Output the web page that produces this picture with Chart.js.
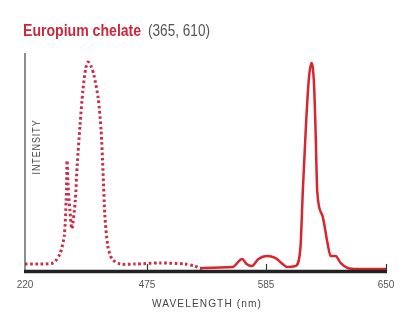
<!DOCTYPE html>
<html>
<head>
<meta charset="utf-8">
<script src="https://cdn.jsdelivr.net/npm/chart.js@4/dist/chart.umd.min.js"></script>
<style>
  html, body { margin: 0; padding: 0; background: #fff; }
  #wrap { width: 412px; height: 320px; position: relative; }
</style>
</head>
<body>
<div id="wrap"><canvas id="c" width="412" height="320"></canvas></div>
<script>
// ---- data ----
const titleMain = "Europium chelate";
const titleSub = "(365, 610)";
const xTitle = "WAVELENGTH (nm)";
const yTitle = "INTENSITY";
const xTickValues = [220, 475, 585, 650];

// excitation spectrum (dotted)
const exWavelength = [220, 251, 279, 293, 302, 306, 308, 310, 314, 318, 325, 329, 335, 341, 347, 352, 358, 364, 373, 379, 383, 387, 393, 402, 419, 450, 487, 510, 519, 526];
const exIntensity  = [3.2, 3.2, 3.7, 7.8, 16.1, 32.3, 50.7, 39.2, 27.6, 19.4, 32.0, 48.4, 66.8, 82.9, 93.1, 95.9, 94.0, 89.9, 79.3, 64.5, 46.1, 25.3, 11.5, 5.5, 3.2, 3.2, 3.7, 3.2, 2.3, 0.9];

// emission spectrum (solid)
const emWavelength = [524, 554, 563, 567, 572, 578, 585.5, 590, 594, 596.5, 601, 603.6, 605, 606.6, 608.2, 609.6, 611, 611.8, 612.8, 615.6, 618.3, 620, 622.7, 625.4, 629.2, 634.6, 650];
const emIntensity  = [1.4, 1.8, 5.5, 3.2, 2.3, 5.5, 6.9, 6.0, 3.2, 1.8, 2.3, 10.1, 37.8, 66.0, 88.0, 95.4, 86.0, 66.0, 36.0, 25.3, 12.9, 6.9, 6.9, 3.7, 1.4, 0.9, 0.9];

// ---- piecewise-linear wavelength scale (the original axis is not uniform) ----
const BREAKS = [220, 475, 585, 650];
const FRACS  = [0, 122 / 361, 241 / 361, 1];
class PiecewiseScale extends Chart.LinearScale {
  getPixelForValue(v) {
    if (v === null || v === undefined || isNaN(v)) return NaN;
    let i = 0;
    while (i < BREAKS.length - 2 && v > BREAKS[i + 1]) i++;
    const f = FRACS[i] + (v - BREAKS[i]) / (BREAKS[i + 1] - BREAKS[i]) * (FRACS[i + 1] - FRACS[i]);
    return this.getPixelForDecimal(f);
  }
  getValueForPixel(p) {
    const f = this.getDecimalForPixel(p);
    let i = 0;
    while (i < FRACS.length - 2 && f > FRACS[i + 1]) i++;
    return BREAKS[i] + (f - FRACS[i]) / (FRACS[i + 1] - FRACS[i]) * (BREAKS[i + 1] - BREAKS[i]);
  }
}
PiecewiseScale.id = 'piecewise';
PiecewiseScale.defaults = Chart.LinearScale.defaults;
Chart.register(PiecewiseScale);

const FONT = '"Liberation Sans", Arial, sans-serif';

function condensedText(ctx, text, x, y, sx) {
  ctx.save();
  ctx.translate(x, y);
  ctx.scale(sx, 1);
  ctx.fillText(text, 0, 0);
  ctx.restore();
}

const decor = {
  id: 'decor',
  afterDatasetsDraw(chart) {
    const ctx = chart.ctx;
    const a = chart.chartArea;
    const xs = chart.scales.x;
    ctx.save();
    // y axis line
    ctx.strokeStyle = '#444';
    ctx.lineWidth = 1.2;
    ctx.beginPath();
    ctx.moveTo(a.left, a.top);
    ctx.lineTo(a.left, a.bottom);
    ctx.stroke();
    // thick x axis line
    ctx.strokeStyle = '#222';
    ctx.lineWidth = 3.5;
    ctx.beginPath();
    ctx.moveTo(a.left - 1, a.bottom + 0.5);
    ctx.lineTo(a.right + 1, a.bottom + 0.5);
    ctx.stroke();
    // small upward tick marks
    ctx.lineWidth = 1.2;
    ctx.strokeStyle = '#333';
    xTickValues.slice(1).forEach(v => {
      const px = Math.round(xs.getPixelForValue(v)) + 0.5;
      ctx.beginPath();
      ctx.moveTo(px, a.bottom);
      ctx.lineTo(px, a.bottom - 7);
      ctx.stroke();
    });
    ctx.restore();
  },
  afterDraw(chart) {
    const ctx = chart.ctx;
    ctx.save();
    // title
    ctx.textBaseline = 'alphabetic';
    ctx.textAlign = 'left';
    ctx.font = 'bold 16px ' + FONT;
    ctx.fillStyle = '#c9283d';
    condensedText(ctx, titleMain, 23, 36, 0.88);
    ctx.font = '16px ' + FONT;
    ctx.fillStyle = '#555';
    condensedText(ctx, titleSub, 148, 36, 0.85);
    // x title
    ctx.font = '11px ' + FONT;
    ctx.fillStyle = '#444';
    ctx.letterSpacing = '1.2px';
    ctx.textAlign = 'center';
    ctx.textBaseline = 'middle';
    condensedText(ctx, xTitle, 207, 304, 0.92);
    // y title
    ctx.translate(37, 147);
    ctx.rotate(-Math.PI / 2);
    ctx.font = '10.5px ' + FONT;
    condensedText(ctx, yTitle, 0, 0, 0.84);
    ctx.restore();
  }
};

new Chart(document.getElementById('c'), {
  type: 'line',
  data: {
    datasets: [
      {
        label: 'Excitation',
        data: exWavelength.map((x, i) => ({ x, y: exIntensity[i] })),
        borderColor: '#c8304a',
        borderWidth: 3,
        borderDash: [2.6, 2.6],
        pointRadius: 0,
        tension: 0.25,
        fill: false,
        clip: false
      },
      {
        label: 'Emission',
        data: emWavelength.map((x, i) => ({ x, y: emIntensity[i] })),
        borderColor: '#d7262f',
        borderWidth: 2.5,
        pointRadius: 0,
        cubicInterpolationMode: 'monotone',
        fill: false,
        clip: false
      }
    ]
  },
  options: {
    responsive: false,
    animation: false,
    events: [],
    layout: { padding: { left: 25, right: 26, top: 53, bottom: 21 } },
    plugins: { legend: { display: false }, tooltip: { enabled: false }, title: { display: false } },
    scales: {
      x: {
        type: 'piecewise',
        min: 220,
        max: 650,
        afterBuildTicks: axis => { axis.ticks = xTickValues.map(v => ({ value: v })); },
        grid: { display: false, drawTicks: false },
        border: { display: false },
        ticks: {
          autoSkip: false,
          maxRotation: 0,
          padding: 8,
          color: '#555',
          font: { family: FONT, size: 10 },
          callback: v => String(v)
        }
      },
      y: { display: false, min: 0, max: 100 }
    }
  },
  plugins: [decor]
});
</script>
</body>
</html>
